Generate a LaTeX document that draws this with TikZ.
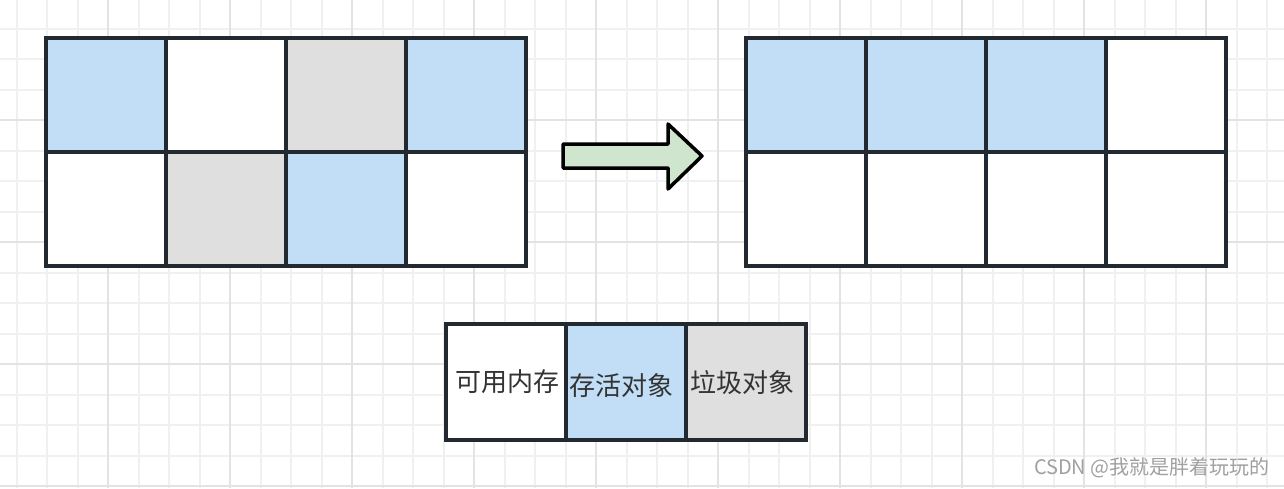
\documentclass[tikz,border=0pt]{standalone}
\usepackage{fontspec}
\setmainfont{Noto Sans CJK SC}
\definecolor{gridminor}{HTML}{F0F0F0}
\definecolor{gridmajor}{HTML}{E3E3E3}
\definecolor{stroke}{HTML}{222930}
\definecolor{live}{HTML}{C1DEF6}
\definecolor{garbage}{HTML}{DFDFDF}
\definecolor{arrowfill}{HTML}{CFE5CD}
\definecolor{txt}{HTML}{333333}
\definecolor{wm}{HTML}{A0A0A0}
\tikzset{
  cell/.style={draw=stroke, line width=3.5pt, rectangle, inner sep=0pt, outer sep=0pt,
    minimum width=120pt, minimum height=114pt, line join=miter},
  freec/.style={cell, fill=white},
  livec/.style={cell, fill=live},
  garbc/.style={cell, fill=garbage},
  lab/.style={text=txt, font=\fontsize{26}{28}\selectfont, inner sep=0pt},
}
\begin{document}
\begin{tikzpicture}[x=1pt, y=-1pt]
\useasboundingbox (0,0) rectangle (1284,488);
\fill[white] (0,0) rectangle (1284,488);
% grid
\foreach \i in {0,...,41} {
  \pgfmathsetmacro{\xx}{16.5+30.5*\i}
  \draw[gridminor, line width=2pt] (\xx,0) -- (\xx,488);
}
\foreach \i in {0,...,15} {
  \pgfmathsetmacro{\yy}{28.5+30.5*\i}
  \draw[gridminor, line width=2pt] (0,\yy) -- (1284,\yy);
}
\foreach \i in {0,...,9} {
  \pgfmathsetmacro{\xx}{108+122*\i}
  \draw[gridmajor, line width=2pt] (\xx,0) -- (\xx,488);
}
\foreach \i in {0,...,3} {
  \pgfmathsetmacro{\yy}{120+122*\i}
  \draw[gridmajor, line width=2pt] (0,\yy) -- (1284,\yy);
}
% left block
\node[livec] (l11) at (106,95) {};
\node[freec] (l12) at (226,95) {};
\node[garbc] (l13) at (346,95) {};
\node[livec] (l14) at (466,95) {};
\node[freec] (l21) at (106,209) {};
\node[garbc] (l22) at (226,209) {};
\node[livec] (l23) at (346,209) {};
\node[freec] (l24) at (466,209) {};
% right block
\node[livec] (r11) at (806,95) {};
\node[livec] (r12) at (926,95) {};
\node[livec] (r13) at (1046,95) {};
\node[freec] (r14) at (1166,95) {};
\node[freec] (r21) at (806,209) {};
\node[freec] (r22) at (926,209) {};
\node[freec] (r23) at (1046,209) {};
\node[freec] (r24) at (1166,209) {};
% arrow
\draw[stroke, fill=arrowfill, line width=3.5pt, line join=round]
  (563,144) -- (668,144) -- (668,124) -- (702,156) -- (668,189) -- (668,168) -- (563,168) -- cycle;
% legend
\node[freec, minimum height=116pt] (g1) at (506,382) {};
\node[livec, minimum height=116pt] (g2) at (626,382) {};
\node[garbc, minimum height=116pt] (g3) at (746,382) {};
\node[lab] (t1) at (507,382) {可用内存};
\node[lab] (t2) at (621,386) {存活对象};
\node[lab] (t3) at (742,383) {垃圾对象};
% watermark
\node[text=wm, font=\fontsize{20}{21}\selectfont, inner sep=0pt, anchor=east] (wmk) at (1270,468) {CSDN @我就是胖着玩玩的};
\end{tikzpicture}
\end{document}
